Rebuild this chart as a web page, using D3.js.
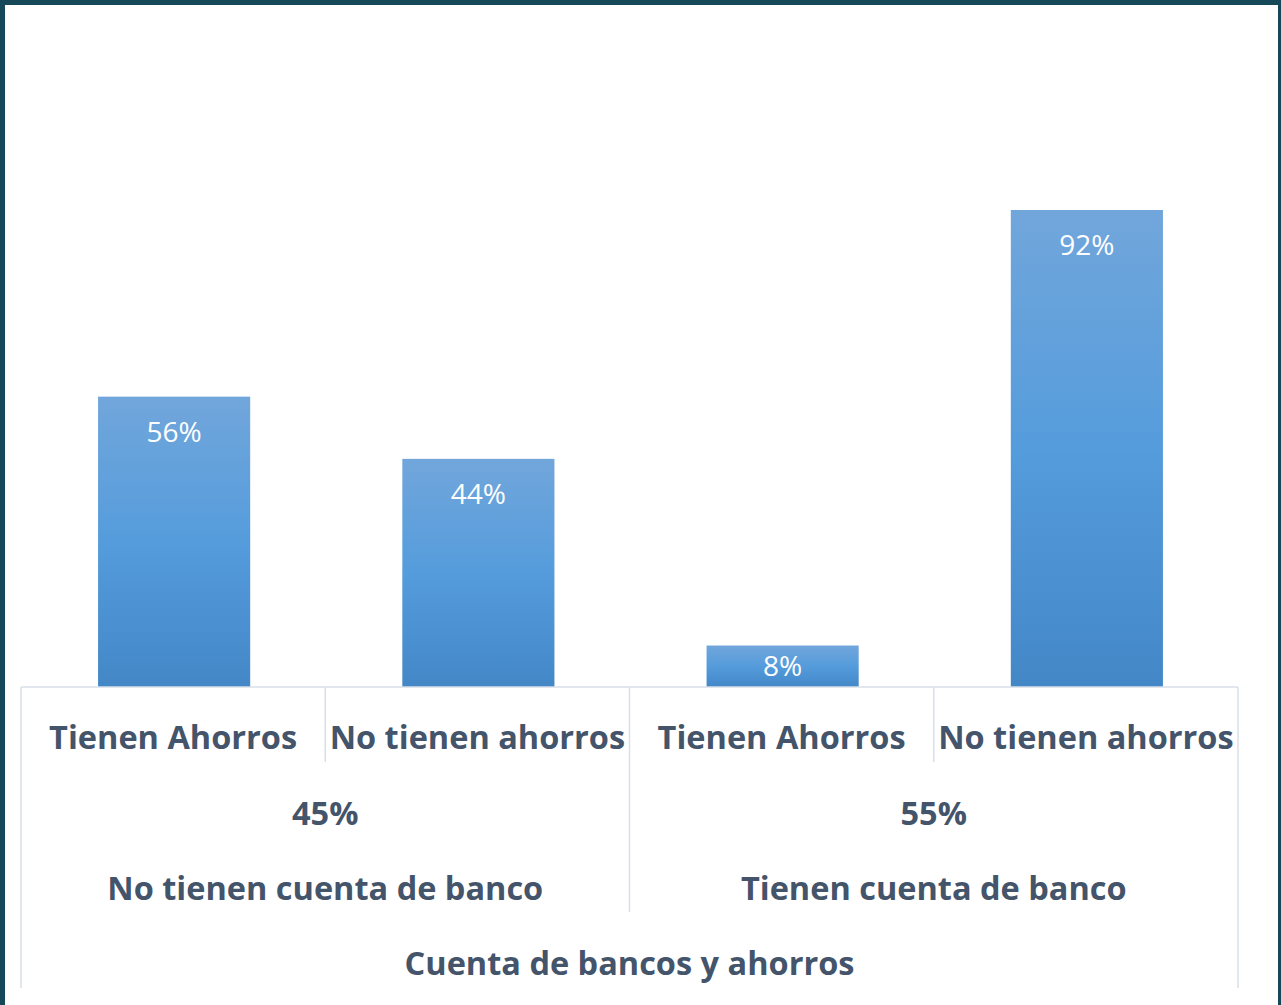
<!DOCTYPE html>
<html lang="es">
<head>
<meta charset="UTF-8">
<title>Cuenta de bancos y ahorros</title>
<style>
  html, body { margin: 0; padding: 0; background: #fff; }
  svg { display: block; }
  text { font-family: 'Open Sans', 'Noto Sans', sans-serif; }
  .cat { fill: #44546A; font-weight: 700; }
  .val { fill: #fff; }
  .grid { stroke: #D9DFE8; stroke-width: 1.5; }
</style>
</head>
<body>
<svg id="chart" width="1281" height="1005" viewBox="0 0 1281 1005"></svg>
<script src="https://cdnjs.cloudflare.com/ajax/libs/d3/7.8.5/d3.min.js"></script>
<script>
// data
const subCategories = ["Tienen Ahorros", "No tienen ahorros", "Tienen Ahorros", "No tienen ahorros"];
const values = [56, 44, 8, 92];
const groupIndex = [0, 0, 1, 1];
const groups = ["No tienen cuenta de banco", "Tienen cuenta de banco"];
const groupShares = ["45%", "55%"];
const axisTitle = "Cuenta de bancos y ahorros";

const svg = d3.select("#chart");
const W = 1281, H = 1005;

// frame
svg.append("rect").attr("width", W).attr("height", H).attr("fill", "#15495A");
svg.append("rect").attr("x", 5).attr("y", 5).attr("width", W - 8).attr("height", H - 5).attr("fill", "#fff");

const left = 21, right = 1238, base = 687;
const idx = d3.range(values.length);

const x = d3.scaleBand().domain(idx).range([left, right]).paddingInner(0.5).paddingOuter(0.25);
const cell = d3.scaleBand().domain(idx).range([left, right]).padding(0);
const y = d3.scaleLinear().domain([0, 100]).range([base, 168.5]);

const defs = svg.append("defs");
const grad = defs.append("linearGradient").attr("id", "barGrad")
    .attr("x1", 0).attr("y1", 0).attr("x2", 0).attr("y2", 1);
grad.append("stop").attr("offset", "0%").attr("stop-color", "#71A6DB");
grad.append("stop").attr("offset", "50%").attr("stop-color", "#559CDC");
grad.append("stop").attr("offset", "100%").attr("stop-color", "#4387C7");

// bars
svg.append("g").selectAll("rect")
  .data(idx)
  .join("rect")
    .attr("x", i => x(i) + 1)
    .attr("y", i => y(values[i]))
    .attr("width", x.bandwidth())
    .attr("height", i => base - y(values[i]))
    .attr("fill", "url(#barGrad)");

// value labels (inside end, centred when the bar is short)
svg.append("g").selectAll("text")
  .data(idx)
  .join("text")
    .attr("class", "val")
    .attr("x", i => x(i) + 1 + x.bandwidth() / 2)
    .attr("y", i => {
      const top = y(values[i]);
      return (base - top) < 90 ? (top + base) / 2 + 10 : top + 45;
    })
    .attr("text-anchor", "middle")
    .attr("font-size", 28)
    .text(i => values[i] + "%");

// multi-level category axis
const grid = svg.append("g");
grid.append("line").attr("class", "grid")
    .attr("x1", left).attr("x2", right).attr("y1", base).attr("y2", base);
[left, right].forEach(px => {
  grid.append("line").attr("class", "grid")
      .attr("x1", px).attr("x2", px).attr("y1", base).attr("y2", 988);
});
idx.slice(1).forEach(i => {
  const px = cell(i);
  const isGroupEdge = groupIndex[i] !== groupIndex[i - 1];
  grid.append("line").attr("class", "grid")
      .attr("x1", px).attr("x2", px)
      .attr("y1", base).attr("y2", isGroupEdge ? 912 : 762);
});

const fs = 32.5;

svg.append("g").selectAll("text")
  .data(idx)
  .join("text")
    .attr("class", "cat")
    .attr("x", i => cell(i) + cell.bandwidth() / 2)
    .attr("y", 748.5)
    .attr("text-anchor", "middle")
    .attr("font-size", fs)
    .text(i => subCategories[i]);

const groupCenter = g => {
  const members = idx.filter(i => groupIndex[i] === g);
  return (cell(members[0]) + cell(members[members.length - 1]) + cell.bandwidth()) / 2;
};

svg.append("g").selectAll("text")
  .data(groups.map((d, g) => g))
  .join("text")
    .attr("class", "cat")
    .attr("x", g => groupCenter(g))
    .attr("y", 824.5)
    .attr("text-anchor", "middle")
    .attr("font-size", fs)
    .text(g => groupShares[g]);

svg.append("g").selectAll("text")
  .data(groups.map((d, g) => g))
  .join("text")
    .attr("class", "cat")
    .attr("x", g => groupCenter(g))
    .attr("y", 899.5)
    .attr("text-anchor", "middle")
    .attr("font-size", fs)
    .text(g => groups[g]);

svg.append("text")
    .attr("class", "cat")
    .attr("x", (left + right) / 2)
    .attr("y", 974.5)
    .attr("text-anchor", "middle")
    .attr("font-size", fs)
    .text(axisTitle);
</script>
</body>
</html>
